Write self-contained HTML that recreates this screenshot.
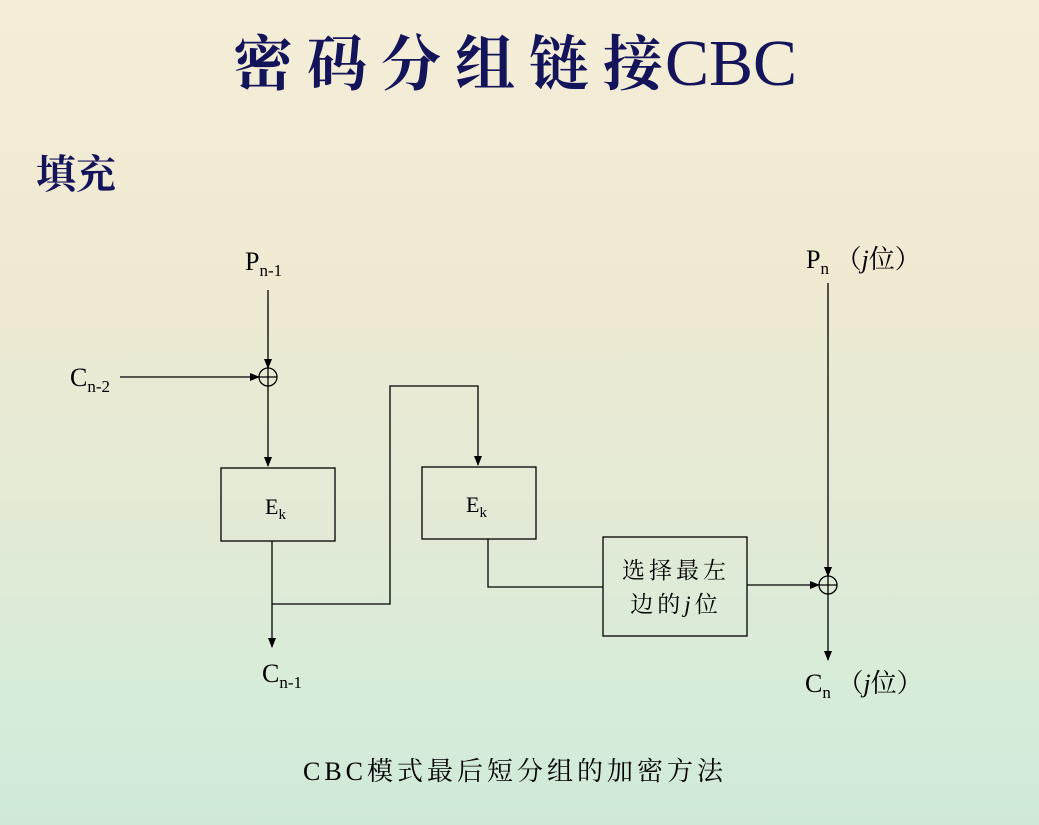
<!DOCTYPE html>
<html><head><meta charset="utf-8"><style>
html,body{margin:0;padding:0;width:1039px;height:825px;overflow:hidden}
body{background:linear-gradient(to bottom,#f4eed8 0%,#efe9d2 35%,#e3ead6 60%,#d6ecd8 85%,#cfe9d8 100%);}
svg{position:absolute;left:0;top:0}
</style></head><body>
<svg width="1039" height="825" xmlns="http://www.w3.org/2000/svg">
<defs><marker id="a" markerWidth="10" markerHeight="10" refX="9" refY="5" orient="auto" markerUnits="userSpaceOnUse"><path d="M0,1 L10,5 L0,9 z" fill="#000"/></marker></defs>
<text x="233" y="85" font-family="'Liberation Serif','Noto Serif CJK SC',serif" font-size="60" fill="#14145a"><tspan font-weight="bold" letter-spacing="14">密码分组链接</tspan><tspan font-size="66" dx="-12">CBC</tspan></text>
<text x="36" y="188" font-family="'Liberation Serif','Noto Serif CJK SC',serif" font-size="40" font-weight="bold" fill="#14145a">填充</text>
<g font-family="'Liberation Serif','Noto Serif CJK SC',serif" fill="#000" font-size="26">
<text x="245" y="270">P<tspan font-size="17" dy="6">n-1</tspan></text>
<text x="70" y="386">C<tspan font-size="17" dy="6">n-2</tspan></text>
<text x="262" y="682">C<tspan font-size="17" dy="6">n-1</tspan></text>
<text x="806" y="268">P<tspan font-size="17" dy="6">n</tspan><tspan dy="-6"> （<tspan font-style="italic">j</tspan>位）</tspan></text>
<text x="805" y="692">C<tspan font-size="17" dy="6">n</tspan><tspan dy="-6"> （<tspan font-style="italic">j</tspan>位）</tspan></text>
<text x="265" y="514" font-size="22">E<tspan font-size="15" dy="5">k</tspan></text>
<text x="466" y="512" font-size="22">E<tspan font-size="15" dy="5">k</tspan></text>
<text x="676" y="578" text-anchor="middle" font-size="23" letter-spacing="4">选择最左</text>
<text x="676" y="612" text-anchor="middle" font-size="23" letter-spacing="4">边的<tspan font-style="italic">j</tspan>位</text>
<text x="515" y="780" text-anchor="middle" font-size="26" letter-spacing="4">CBC模式最后短分组的加密方法</text>
</g>
<g stroke="#000" stroke-width="1.3" fill="none">
<line x1="268" y1="290" x2="268" y2="368" marker-end="url(#a)"/>
<line x1="120" y1="377" x2="259" y2="377" marker-end="url(#a)"/>
<circle cx="268" cy="377" r="9"/><line x1="259" y1="377" x2="277" y2="377"/><line x1="268" y1="368" x2="268" y2="386"/>
<line x1="268" y1="386" x2="268" y2="466" marker-end="url(#a)"/>
<rect x="221" y="468" width="114" height="73"/>
<line x1="272" y1="541" x2="272" y2="647" marker-end="url(#a)"/>
<polyline points="272,604 390,604 390,386 478,386 478,465" marker-end="url(#a)"/>
<rect x="422" y="467" width="114" height="72"/>
<polyline points="488,539 488,587 603,587"/>
<rect x="603" y="537" width="144" height="99"/>
<line x1="747" y1="585" x2="819" y2="585" marker-end="url(#a)"/>
<line x1="828" y1="283" x2="828" y2="576" marker-end="url(#a)"/>
<circle cx="828" cy="585" r="9"/><line x1="819" y1="585" x2="837" y2="585"/><line x1="828" y1="576" x2="828" y2="594"/>
<line x1="828" y1="594" x2="828" y2="660" marker-end="url(#a)"/>
</g>
</svg>
</body></html>
